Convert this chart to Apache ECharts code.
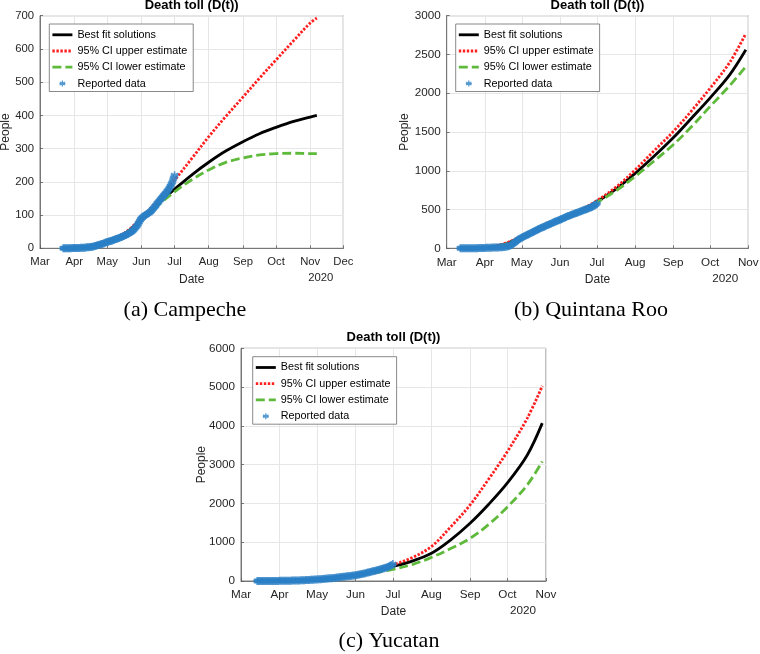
<!DOCTYPE html>
<html><head><meta charset="utf-8">
<script src="https://cdn.jsdelivr.net/npm/echarts@6/dist/echarts.min.js"></script>
<style>html,body{margin:0;padding:0;background:#fff}#c{width:760px;height:654px}</style>
</head><body><div id="c"></div>
<script>
// Month ticks: days counted from 1 March 2020
const monthTicks = [0, 31, 61, 92, 122, 153, 184, 214, 245, 275];
const monthLabels = ['Mar', 'Apr', 'May', 'Jun', 'Jul', 'Aug', 'Sep', 'Oct', 'Nov', 'Dec'];

// (a) Campeche
const curveDaysA = [20, 31, 45, 61, 77, 92, 107, 122, 138, 153, 168, 184, 199, 214, 230, 245, 251];
const bestA  = [0, 2, 6, 20, 45, 88, 135, 178, 222, 259, 292, 321, 345, 364, 382, 395, 400];
const upperA = [0, 2, 7, 22, 47, 92, 145, 205, 272, 336, 395, 455, 512, 567, 625, 678, 693];
const lowerA = [0, 2, 5, 19, 44, 86, 130, 170, 207, 236, 258, 272, 281, 285, 286, 285, 285];
const reportedStartA = 21;
const reportedA = [
  0,0,0,0,0,0,0,0,1,1,
  1,1,1,1,1,1,2,2,2,2,
  2,3,3,3,4,4,5,5,6,7,
  8,9,10,11,12,13,14,15,17,18,
  19,20,21,22,23,24,25,27,28,29,
  30,31,33,34,36,37,39,40,42,44,
  46,48,50,53,56,60,64,68,74,80,86,
  90,93,96,99,101,103,105,107,110,113,
  117,121,125,129,134,138,142,146,150,154,
  158,162,166,170,175,180,186,192,200,210,220
];

// (b) Quintana Roo
const curveDaysB = [11, 31, 45, 61, 76, 92, 107, 122, 138, 153, 168, 184, 199, 214, 230, 243];
const bestB  = [0, 8, 45, 145, 250, 365, 470, 600, 770, 965, 1180, 1425, 1680, 1940, 2240, 2560];
const upperB = [0, 10, 52, 155, 262, 375, 482, 615, 795, 1010, 1250, 1505, 1775, 2065, 2400, 2770];
const lowerB = [0, 7, 40, 138, 240, 357, 460, 590, 748, 925, 1120, 1335, 1570, 1830, 2100, 2345];
const reportedStartB = 11;
const reportedB = [
  0,0,0,0,0,0,0,0,1,1,
  1,1,2,2,2,3,3,4,4,5,
  5,6,6,7,7,8,9,9,10,10,
  10,11,12,13,14,16,18,20,22,25,
  30,38,48,60,72,85,98,110,120,130,
  138,146,154,162,170,178,186,194,202,210,
  218,226,234,242,250,258,265,272,279,286,
  293,300,307,314,321,328,335,342,349,355,361,
  368,375,382,390,398,405,412,418,424,430,
  436,442,448,454,460,466,472,478,484,490,
  496,502,508,514,520,527,534,542,552,565,580
];

// (c) Yucatan
const curveDaysC = [13, 31, 45, 61, 76, 92, 107, 122, 138, 153, 168, 184, 199, 214, 230, 242];
const bestC  = [0, 3, 12, 38, 80, 150, 240, 370, 520, 715, 1050, 1490, 1980, 2530, 3250, 4070];
const upperC = [0, 3, 13, 40, 84, 158, 260, 415, 610, 890, 1380, 1960, 2630, 3340, 4200, 5030];
const lowerC = [0, 3, 11, 36, 76, 142, 210, 300, 430, 610, 830, 1100, 1460, 1910, 2480, 3080];
const reportedStartC = 13;
const reportedC = [
  0,0,0,0,0,1,1,1,
  1,1,1,2,2,2,2,3,3,3,
  4,4,5,5,6,6,7,7,8,9,
  10,11,12,13,14,15,16,17,18,19,
  21,23,25,27,29,31,33,35,37,39,
  41,43,45,47,50,53,56,59,62,65,
  68,71,74,77,80,84,88,92,96,100,
  104,108,112,116,120,124,128,132,136,140,145,
  150,156,162,168,175,182,189,196,203,210,
  218,226,234,242,250,258,266,275,284,293,
  302,311,320,330,340,350,362,374,388,410,440
];

const seriesNames = ['Best fit solutions', '95% CI upper estimate', '95% CI lower estimate', 'Reported data'];
const titleText = 'Death toll (D(t))';
const captions = ['(a) Campeche', '(b) Quintana Roo', '(c) Yucatan'];
const yearLabel = '2020';

const SANS = '"Liberation Sans", Arial, Helvetica, sans-serif';
const SERIF = '"Liberation Serif", "Times New Roman", serif';
const TXT = '#262626';
const BLUE = '#2a7fc6';
const LW = 2.8;
const ASTER = 'path://M0,-3L0,3M-2.6,-1.5L2.6,1.5M-2.6,1.5L2.6,-1.5M-3,0L3,0';
const ASTER_LEGEND = 'path://M-5,-5M5,5M0,-3L0,3M-2.6,-1.5L2.6,1.5M-2.6,1.5L2.6,-1.5M-3,0L3,0';

const panels = [
  { grid: {left: 40, top: 15.7, width: 303.3, height: 232.6}, xMax: 275, yMax: 700, yInt: 100,
    days: curveDaysA, best: bestA, upper: upperA, lower: lowerA, rStart: reportedStartA, rep: reportedA,
    legend: {left: 49.3, top: 24}, fs: 11.3, nameGap: 28 },
  { grid: {left: 446.7, top: 15.7, width: 301.6, height: 232.6}, xMax: 245, yMax: 3000, yInt: 500,
    days: curveDaysB, best: bestB, upper: upperB, lower: lowerB, rStart: reportedStartB, rep: reportedB,
    legend: {left: 455.7, top: 24}, fs: 11.7, nameGap: 36 },
  { grid: {left: 241, top: 348.3, width: 305, height: 232.7}, xMax: 245, yMax: 6000, yInt: 1000,
    days: curveDaysC, best: bestC, upper: upperC, lower: lowerC, rStart: reportedStartC, rep: reportedC,
    legend: {left: 252.7, top: 356.7}, fs: 11.7, nameGap: 33 }
];

const option = {
  animation: false,
  backgroundColor: '#fff',
  grid: [], xAxis: [], yAxis: [], series: [], legend: [], graphic: []
};

panels.forEach((p, k) => {
  option.grid.push(Object.assign({show: true, borderColor: '#5a5a5a', borderWidth: 0.8, backgroundColor: '#fff', outerBoundsMode: 'none'}, p.grid));
  const ticks = monthTicks.filter(v => v <= p.xMax);
  option.xAxis.push({
    type: 'value', gridIndex: k, min: 0, max: p.xMax,
    name: 'Date', nameLocation: 'middle', nameGap: 25, nameMoveOverlap: false,
    nameTextStyle: {fontFamily: SANS, fontSize: 12, color: TXT},
    axisLine: {show: true, onZero: false, lineStyle: {color: '#5a5a5a', width: 0.8}},
    axisTick: {show: true, inside: true, length: 3, customValues: ticks, lineStyle: {color: '#5a5a5a', width: 0.8}},
    axisLabel: {customValues: ticks, margin: 8, fontFamily: SANS, fontSize: p.fs, color: TXT,
      formatter: v => monthLabels[monthTicks.indexOf(Math.round(v))] || ''},
    splitLine: {show: true, lineStyle: {color: '#e6e6e6', width: 1}}
  });
  option.yAxis.push({
    type: 'value', gridIndex: k, min: 0, max: p.yMax, interval: p.yInt,
    name: 'People', nameLocation: 'middle', nameGap: p.nameGap, nameRotate: 90, nameMoveOverlap: false,
    nameTextStyle: {fontFamily: SANS, fontSize: 12, color: TXT},
    axisLine: {show: true, lineStyle: {color: '#5a5a5a', width: 0.8}},
    axisTick: {show: true, inside: true, length: 3, lineStyle: {color: '#5a5a5a', width: 0.8}},
    axisLabel: {margin: 6, fontFamily: SANS, fontSize: p.fs, color: TXT, formatter: v => String(v)},
    splitLine: {show: true, lineStyle: {color: '#e6e6e6', width: 1}}
  });
  const lineBase = {type: 'line', xAxisIndex: k, yAxisIndex: k, symbol: 'none', showSymbol: false,
    smooth: 0.35, emphasis: {disabled: true}, silent: true, z: 2};
  option.series.push(Object.assign({}, lineBase, {
    name: seriesNames[0], data: p.days.map((d, i) => [d, p.best[i]]),
    color: '#000', lineStyle: {color: '#000', width: LW, type: 'solid'}}));
  option.series.push(Object.assign({}, lineBase, {
    name: seriesNames[1], data: p.days.map((d, i) => [d, p.upper[i]]),
    color: '#ff1f1f', lineStyle: {color: '#ff1f1f', width: LW, type: [2.4, 1.6], cap: 'butt'}}));
  option.series.push(Object.assign({}, lineBase, {
    name: seriesNames[2], data: p.days.map((d, i) => [d, p.lower[i]]),
    color: '#5fba3c', lineStyle: {color: '#5fba3c', width: LW, type: [9, 4]}}));
  option.series.push({
    type: 'scatter', name: seriesNames[3], xAxisIndex: k, yAxisIndex: k, z: 3,
    data: p.rep.map((v, i) => [p.rStart + i, v]),
    symbol: ASTER, symbolSize: 8, silent: true, emphasis: {disabled: true},
    itemStyle: {color: 'rgba(0,0,0,0)', borderColor: BLUE, borderWidth: 1.6}
  });
  const hideSym = {opacity: 0};
  option.legend.push({
    left: p.legend.left, top: p.legend.top, orient: 'vertical',
    itemWidth: 20, itemHeight: 10, itemGap: 5.2,
    padding: [5.3, 6, 2.3, 1.7],
    backgroundColor: '#fff', borderColor: '#6b6b6b', borderWidth: 0.8, borderRadius: 0,
    selectedMode: false,
    lineStyle: {width: LW},
    textStyle: {fontFamily: SANS, fontSize: 10.8, color: '#000'},
    data: [
      {name: seriesNames[0], itemStyle: hideSym},
      {name: seriesNames[1], itemStyle: hideSym},
      {name: seriesNames[2], itemStyle: hideSym},
      {name: seriesNames[3], icon: ASTER_LEGEND, itemStyle: {color: 'rgba(0,0,0,0)', borderColor: BLUE, borderWidth: 1.3}}
    ]
  });
  const g = p.grid;
  option.graphic.push({
    type: 'text', x: g.left + g.width / 2, y: g.top - 10.7, silent: true,
    style: {text: titleText, font: 'bold 13px ' + SANS, fill: '#000', textAlign: 'center', textVerticalAlign: 'middle'}
  });
  option.graphic.push({
    type: 'text', x: g.left + g.width - 10, y: g.top + g.height + 30, silent: true,
    style: {text: yearLabel, font: p.fs + 'px ' + SANS, fill: TXT, textAlign: 'right', textVerticalAlign: 'middle'}
  });
});

const captionPos = [[185, 310], [591, 310], [389, 641.7]];
captions.forEach((c, k) => {
  option.graphic.push({
    type: 'text', x: captionPos[k][0], y: captionPos[k][1], silent: true,
    style: {text: c, font: '22px ' + SERIF, fill: '#000', textAlign: 'center', textVerticalAlign: 'middle'}
  });
});

const chart = echarts.init(document.getElementById('c'), null, {renderer: 'canvas'});
chart.setOption(option);
</script>
</body></html>
